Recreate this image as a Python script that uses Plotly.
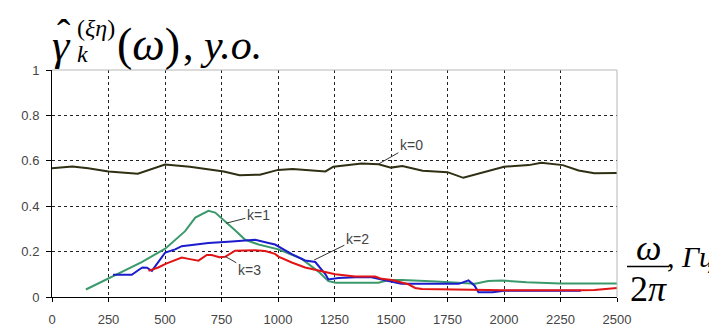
import plotly.graph_objects as go

# ---------------- data ----------------
k0_x = [0, 90, 160, 250, 380, 500, 610, 760, 830, 920, 1000, 1065, 1210, 1245,
        1370, 1445, 1500, 1550, 1640, 1750, 1820, 1895, 2000, 2110, 2165, 2260,
        2330, 2400, 2500]
k0_y = [0.567, 0.575, 0.567, 0.553, 0.543, 0.584, 0.574, 0.553, 0.536, 0.539,
        0.560, 0.564, 0.553, 0.574, 0.588, 0.585, 0.570, 0.577, 0.556, 0.550,
        0.525, 0.546, 0.574, 0.581, 0.591, 0.581, 0.557, 0.545, 0.546]

k1_x = [150, 253, 397, 501, 589, 634, 692, 722, 756, 810, 855, 914, 1002, 1105,
        1179, 1223, 1256, 1445, 1489, 1550, 1700, 1872, 1930, 1990, 2100, 2250,
        2500]
k1_y = [0.033, 0.084, 0.154, 0.213, 0.290, 0.350, 0.380, 0.372, 0.343, 0.294,
        0.252, 0.231, 0.210, 0.168, 0.112, 0.070, 0.063, 0.063, 0.075, 0.075,
        0.068, 0.058, 0.070, 0.073, 0.065, 0.060, 0.060]

k2_x = [270, 353, 383, 400, 420, 442, 501, 545, 574, 634, 692, 796, 899, 958,
        987, 1061, 1120, 1165, 1187, 1210, 1223, 1267, 1342, 1414, 1489, 1546,
        1800, 1843, 1870, 1887, 1950, 2000, 2340]
k2_y = [0.098, 0.098, 0.119, 0.130, 0.129, 0.115, 0.196, 0.210, 0.224, 0.232,
        0.238, 0.245, 0.252, 0.238, 0.231, 0.189, 0.161, 0.154, 0.130, 0.100,
        0.077, 0.084, 0.087, 0.087, 0.070, 0.058, 0.058, 0.073, 0.050, 0.021,
        0.021, 0.027, 0.027]

k3_x = [427, 470, 505, 574, 604, 648, 685, 707, 740, 766, 810, 855, 899, 943,
        987, 1002, 1061, 1120, 1194, 1253, 1342, 1430, 1459, 1504, 1577, 1607,
        1636, 1754, 1872, 2000, 2340, 2400, 2500]
k3_y = [0.115, 0.130, 0.147, 0.174, 0.168, 0.160, 0.185, 0.185, 0.175, 0.177,
        0.204, 0.206, 0.206, 0.203, 0.190, 0.178, 0.152, 0.130, 0.115, 0.100,
        0.090, 0.090, 0.080, 0.075, 0.056, 0.040, 0.035, 0.033, 0.031, 0.030,
        0.030, 0.031, 0.040]

x_ticks = [0, 250, 500, 750, 1000, 1250, 1500, 1750, 2000, 2250, 2500]
y_ticks = [0, 0.2, 0.4, 0.6, 0.8, 1]

series_names = ["k=0", "k=1", "k=2", "k=3"]
# label text position and leader target (data units)
label_text_xy = [(1590, 0.668), (913, 0.361), (1351, 0.256), (873, 0.118)]
label_point_xy = [(1445, 0.586), (770, 0.325), (1160, 0.163), (766, 0.179)]

# ---------------- layout ----------------
W, H = 717, 331
ML, MR, MT, MB = 44, 108, 62, 31
PW, PH = W - ML - MR, H - MT - MB


def px(xp):
    return (xp - ML) / PW


def py(yp):
    return (H - MB - yp) / PH


colors = ["#2f2f14", "#3a9a6c", "#1c1ccc", "#e01414"]

fig = go.Figure()
for xs, ys, c, n in zip([k0_x, k1_x, k2_x, k3_x], [k0_y, k1_y, k2_y, k3_y],
                        colors, series_names):
    fig.add_trace(go.Scatter(x=xs, y=ys, mode="lines", name=n,
                             line=dict(color=c, width=2), showlegend=False))

annotations = []
for n, (tx, ty), (hx, hy) in zip(series_names, label_text_xy, label_point_xy):
    annotations.append(dict(x=hx, y=hy, ax=tx, ay=ty, axref="x", ayref="y",
                            xref="x", yref="y", text=n, showarrow=True,
                            arrowhead=0, arrowwidth=1, arrowcolor="#333",
                            font=dict(family="Liberation Sans Narrow, Liberation Sans, Arial",
                                      size=14, color="#444")))

serif = "Liberation Serif, Times New Roman, serif"


def txt(x, y, s, size, xanchor="left"):
    return dict(xref="paper", yref="paper", x=px(x), y=py(y), xanchor=xanchor,
                yanchor="middle", text=s, showarrow=False, borderpad=0,
                font=dict(family=serif, size=size, color="black"))


# title pieces
annotations += [
    txt(43, 36, "<i>γ</i>", 44),
    txt(48, 24, "ˆ", 40),
    txt(68, 18, "(<i>ξη</i>)", 24),
    txt(68, 45, "<i>k</i>", 24),
    txt(108, 35, "(<i>ω</i>)", 46),
    txt(174, 36, ", <i>y.o.</i>", 42),
    # x-axis label
    txt(640, 249, "<i>ω</i>", 36, "center"),
    txt(640, 292, "2<i>π</i>", 36, "center"),
    txt(658, 258, ", <i>Гц</i>", 30),
]

shapes = [
    dict(type="line", xref="paper", yref="paper", x0=0, x1=1, y0=1, y1=1,
         line=dict(color="#b8b8b8", width=1), layer="above"),
    dict(type="line", xref="paper", yref="paper", x0=1, x1=1, y0=0, y1=1,
         line=dict(color="#b8b8b8", width=1), layer="above"),
    dict(type="line", xref="paper", yref="paper", x0=px(619), x1=px(661),
         y0=py(268), y1=py(268), line=dict(color="black", width=1.5)),
]

tickfont = dict(family="Liberation Sans Narrow, Liberation Sans, Arial",
                size=13, color="#444")

fig.update_layout(
    width=W, height=H,
    margin=dict(l=ML, r=MR, t=MT, b=MB, pad=0),
    paper_bgcolor="white", plot_bgcolor="white",
    annotations=annotations, shapes=shapes,
    xaxis=dict(range=[0, 2500], tickvals=x_ticks, ticks="outside", ticklen=4,
               tickcolor="black", showline=True, linecolor="black", linewidth=1,
               showgrid=True, gridcolor="#222", griddash="3px,3px", gridwidth=1,
               zeroline=False, tickfont=tickfont, ticklabelstandoff=6,
               fixedrange=True),
    yaxis=dict(range=[0, 1], tickvals=y_ticks, ticks="outside", ticklen=5,
               tickcolor="black", showline=True, linecolor="black", linewidth=1,
               showgrid=True, gridcolor="#222", griddash="3px,3px", gridwidth=1,
               zeroline=False, tickfont=tickfont, ticklabelstandoff=4,
               fixedrange=True),
)

fig.write_html("out.html")
